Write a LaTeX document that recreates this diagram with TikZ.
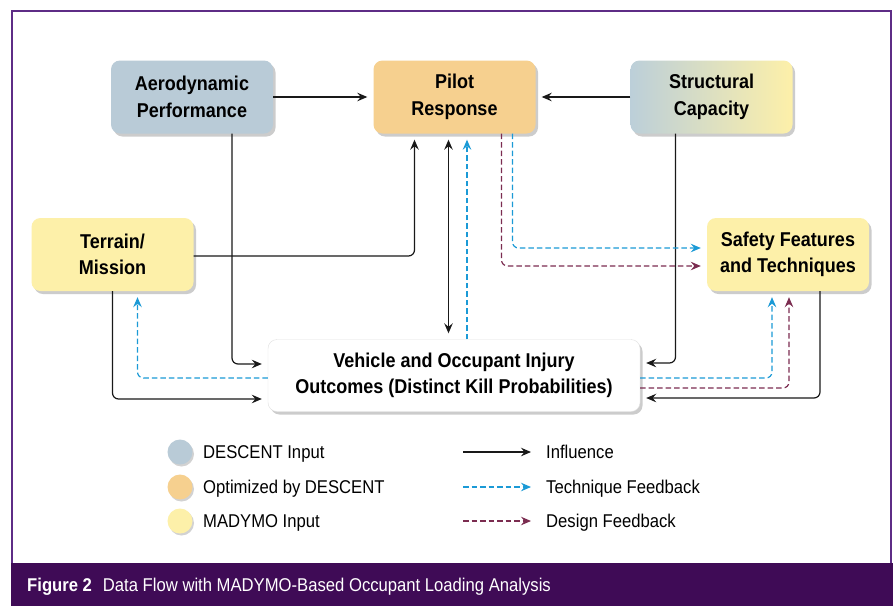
\documentclass[tikz,border=0pt]{standalone}
\usepackage{fontspec}
\setmainfont{Liberation Sans}[FakeStretch=0.9]
\usetikzlibrary{arrows.meta,shadows}

\definecolor{aeroblue}{HTML}{B9CBD7}
\definecolor{pilotorange}{HTML}{F6D08F}
\definecolor{madyyellow}{HTML}{FDF0A9}
\definecolor{structblue}{HTML}{BCCFD9}
\definecolor{techblue}{HTML}{1B9AD6}
\definecolor{designred}{HTML}{7B2C50}
\definecolor{framepurple}{HTML}{5E2C86}
\definecolor{barpurple}{HTML}{3F0B56}

\tikzset{
  >={Stealth[length=10pt,width=8.5pt,inset=3.5pt]},
  box/.style={rounded corners=9pt, minimum width=162pt, minimum height=73pt, inner sep=0pt,
    align=center, font=\fontsize{20}{26.5}\selectfont\bfseries,
    drop shadow={opacity=0.4, shadow xshift=2.5pt, shadow yshift=-3pt}},
  flow/.style={draw=black!90, line width=1.2pt, rounded corners=6pt, ->, shorten >=6pt},
  tech/.style={flow, draw=techblue, dash pattern=on 5.5pt off 3pt},
  design/.style={flow, draw=designred, dash pattern=on 5.5pt off 3pt},
  legdot/.style={circle, minimum size=25pt, inner sep=0pt,
    drop shadow={opacity=0.35, shadow xshift=1.5pt, shadow yshift=-2pt}},
  legtext/.style={anchor=base west, inner sep=0pt, font=\fontsize{18.5}{22}\selectfont}
}

\begin{document}
\begin{tikzpicture}[x=1pt,y=-1pt]
  \fill[white] (0,0) rectangle (896,606);
  \useasboundingbox (0,0) rectangle (896,606);
  \fill[barpurple] (11,563) rectangle (893,606);
  \draw[framepurple, line width=1.5pt] (12,563) |- (891,11) -- (891,563);

  \node[box, fill=aeroblue] (aero) at (192,97) {Aerodynamic\\Performance};
  \node[box, fill=pilotorange] (pilot) at (454.5,97) {Pilot\\Response};
  \node[box, left color=structblue, right color=madyyellow] (struct) at (711.5,97) {Structural\\Capacity};
  \node[box, fill=madyyellow] (terrain) at (112.5,254.5) {Terrain/\\Mission};
  \node[box, fill=madyyellow] (safety) at (788,254.5) {Safety Features\\and Techniques};
  \node[box, fill=white, draw=black!12, minimum width=372pt, minimum height=72pt] (vehicle) at (454,375.5)
    {Vehicle and Occupant Injury\\Outcomes (Distinct Kill Probabilities)};

  \draw[flow] (aero) -- (pilot);
  \draw[flow] (struct) -- (pilot);
  \draw[flow] ([xshift=40pt]aero.south) |- ([yshift=11.5pt]vehicle.west);
  \draw[flow] ([yshift=-1.5pt]terrain.east) -| ([xshift=-40pt]pilot.south);
  \draw[flow, <->, shorten <=6pt] ([xshift=-6pt]pilot.south) -- ([xshift=-6pt]pilot.south |- vehicle.north);
  \draw[flow] ([xshift=-36pt]struct.south) |- ([yshift=12.5pt]vehicle.east);
  \draw[flow] ([xshift=32pt]safety.south) |- ([yshift=-22.5pt]vehicle.east);
  \draw[flow] (terrain.south) |- ([yshift=-23.5pt]vehicle.west);

  \draw[tech] ([xshift=13pt]vehicle.north) -- ([xshift=13pt]vehicle.north |- pilot.south);
  \draw[tech] ([xshift=58pt]pilot.south) |- ([yshift=6.5pt]safety.west);
  \draw[design] ([xshift=47pt]pilot.south) |- ([yshift=-11.5pt]safety.west);
  \draw[tech] ([yshift=-2.5pt]vehicle.east) -| ([xshift=-16pt]safety.south);
  \draw[design] ([yshift=-12.5pt]vehicle.east) -| ([xshift=1pt]safety.south);
  \draw[tech] ([yshift=-2.5pt]vehicle.west) -| ([xshift=25pt]terrain.south);

  \node[legdot, fill=aeroblue] (dot1) at (180,452) {};
  \node[legdot, fill=pilotorange] (dot2) at (180,487) {};
  \node[legdot, fill=madyyellow] (dot3) at (180,521) {};
  \node[legtext] (leg1) at (203,458.5) {DESCENT Input};
  \node[legtext] (leg2) at (203,493.5) {Optimized by DESCENT};
  \node[legtext] (leg3) at (203,527.5) {MADYMO Input};

  \coordinate (k1) at (463,452);
  \coordinate (k2) at (463,487);
  \coordinate (k3) at (463,521);
  \node[legtext] (key1) at (546,458.5) {Influence};
  \node[legtext] (key2) at (546,493.5) {Technique Feedback};
  \node[legtext] (key3) at (546,527.5) {Design Feedback};
  \draw[flow, shorten >=15pt] (k1) -- (k1 -| key1.west);
  \draw[tech, shorten >=15pt] (k2) -- (k2 -| key2.west);
  \draw[design, shorten >=15pt] (k3) -- (k3 -| key3.west);

  \node[anchor=base west, inner sep=0pt, text=white, font=\fontsize{18.5}{22}\selectfont] (caption) at (27,591.5)
    {\textbf{Figure 2}\hspace{11pt}Data Flow with MADYMO-Based Occupant Loading Analysis};
\end{tikzpicture}
\end{document}
